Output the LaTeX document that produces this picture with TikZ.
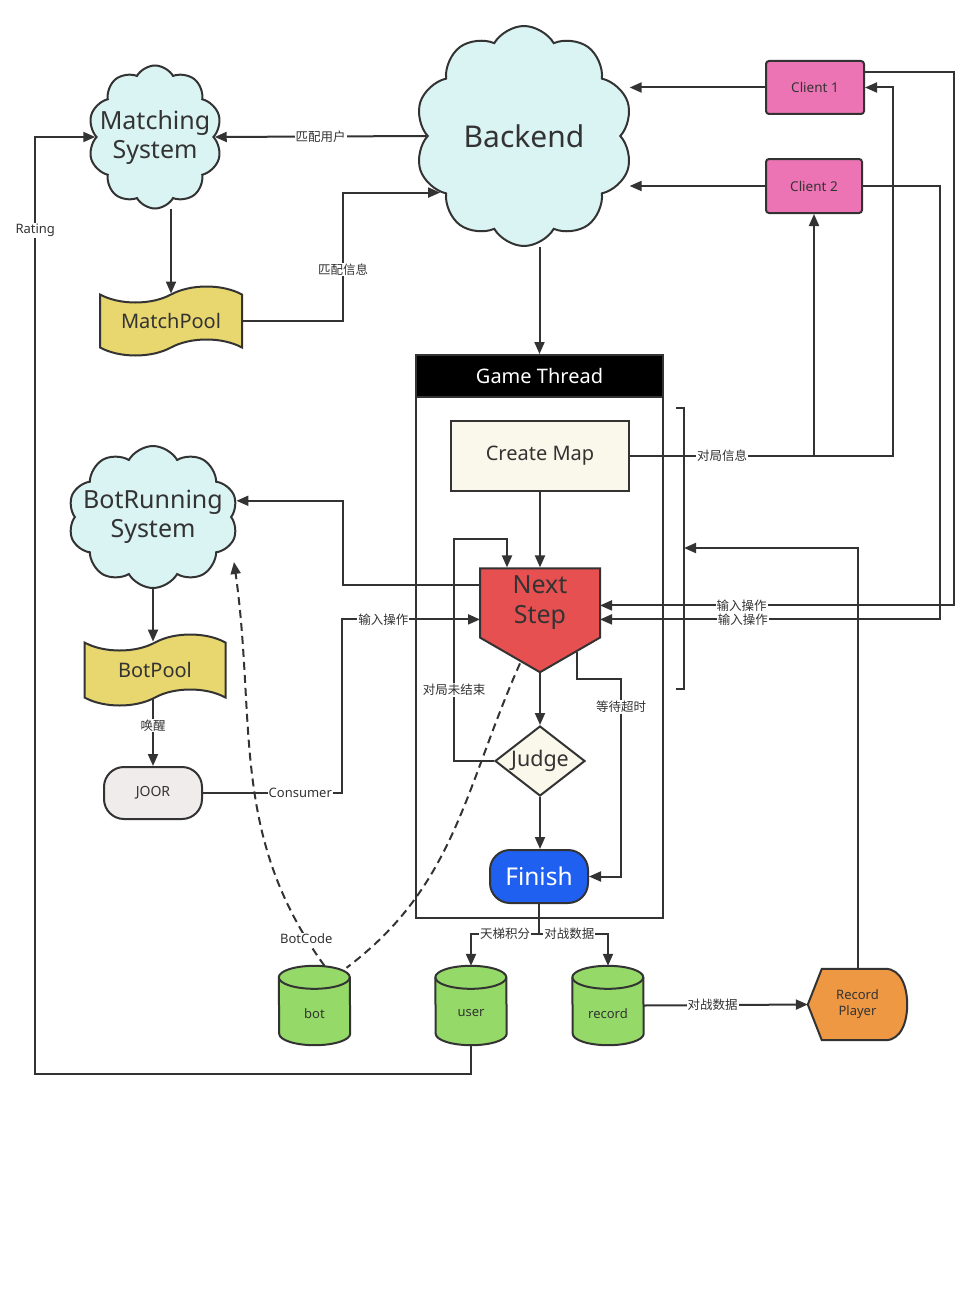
\documentclass[tikz,border=0pt]{standalone}
\usepackage{fontspec}
\setmainfont{Noto Sans}
\newfontfamily\cjk{Noto Sans CJK SC}
\usetikzlibrary{arrows.meta,calc,shapes.symbols,shapes.geometric,backgrounds}
\definecolor{lnc}{RGB}{51,51,51}
\definecolor{cloudc}{RGB}{218,243,243}
\definecolor{poolc}{RGB}{232,214,110}
\definecolor{pinkc}{RGB}{237,116,180}
\definecolor{creamc}{RGB}{250,248,234}
\definecolor{redc}{RGB}{230,80,80}
\definecolor{bluec}{RGB}{32,96,240}
\definecolor{grayc}{RGB}{239,236,235}
\definecolor{greenc}{RGB}{149,217,104}
\definecolor{orangec}{RGB}{238,152,68}

\begin{document}
\begin{tikzpicture}[x = 1pt, y = -1pt,
    every node/.style = {text = lnc},
    shp/.style = {draw = lnc, line width = 2pt},
    cloudy/.style = {shp, cloud, cloud puffs = 10, cloud puff arc = 120, fill = cloudc, inner sep = 0pt},
    bigtxt/.style = {align = center, font = \fontsize{25}{29}\selectfont},
    pool/.style = {shp, tape, fill = poolc, tape bend height = 16pt, font = \fontsize{20}{24}\selectfont},
    client/.style = {shp, fill = pinkc, rounded corners = 3pt, font = \fontsize{13.5}{16}\selectfont},
    db/.style = {minimum width = 71pt, minimum height = 79pt},
    dbtxt/.style = {yshift = -8pt, font = \fontsize{13}{16}\selectfont},
    arr/.style = {draw = lnc, line width = 2pt, -{Triangle[length = 12pt, width = 10pt]}},
    lbl/.style = {fill = white, inner sep = 1pt, font = \fontsize{13}{15}\selectfont},
    clbl/.style = {lbl, font = \cjk\fontsize{12.5}{14}\selectfont}]
    \useasboundingbox (0,0) rectangle (977,1295);

    \node[cloudy, minimum width = 134pt, minimum height = 143pt,
        label = {[bigtxt]center:Matching\\System}] (matching) at (155,137) {};
    \node[cloudy, minimum width = 218pt, minimum height = 220pt,
        label = {[font = \fontsize{30}{36}\selectfont]center:Backend}] (backend) at (524,136) {};
    \node[cloudy, minimum width = 170pt, minimum height = 142pt,
        label = {[bigtxt]center:BotRunning\\System}] (botrun) at (153,517) {};

    \node[pool, minimum width = 142pt, minimum height = 69pt] (mpool) at (171,321) {MatchPool};
    \node[pool, minimum width = 141pt, minimum height = 71pt] (bpool) at (155,670) {BotPool};

    \node[client, minimum width = 98pt, minimum height = 53pt] (client1) at (815,87.5) {Client 1};
    \node[client, minimum width = 96pt, minimum height = 54pt] (client2) at (814,186) {Client 2};

    \node[shp, minimum width = 247pt, minimum height = 563pt] (gframe) at (539.5,636.5) {};
    \node[shp, fill = black, text = white, minimum width = 247pt, minimum height = 42pt,
        font = \fontsize{20}{24}\selectfont] (gtitle) at (539.5,376) {Game Thread};
    \node[shp, fill = creamc, minimum width = 178pt, minimum height = 70pt,
        font = \fontsize{20}{24}\selectfont] (cmap) at (540,456) {Create Map};
    \node[shp, signal, signal to = south, signal pointer angle = 120, fill = redc,
        minimum width = 120pt, minimum height = 85pt, inner sep = 0pt, align = center,
        font = \fontsize{25}{30}\selectfont] (nstep) at (540,603) {Next\\Step};
    \node[shp, diamond, aspect = 1.29, fill = creamc, minimum width = 90pt, minimum height = 70pt,
        inner sep = 0pt, font = \fontsize{21.5}{26}\selectfont] (judge) at (540,761) {Judge};
    \node[shp, fill = bluec, text = white, rounded corners = 20pt, minimum width = 98pt,
        minimum height = 53pt, font = \fontsize{24.5}{29}\selectfont] (finish) at (539,876.5) {Finish};

    \node[shp, fill = grayc, rounded corners = 20pt, minimum width = 98pt, minimum height = 52pt,
        font = \fontsize{14}{17}\selectfont] (joor) at (153,793) {JOOR};

    \node[db, label = {[dbtxt]center:bot}] (bot) at (314.5,1005.5) {};
    \node[db, label = {[dbtxt]center:user}] (user) at (471,1005.5) {};
    \node[db, label = {[dbtxt]center:record}] (record) at (608,1005.5) {};

    \node[minimum width = 99pt, minimum height = 71pt, align = center,
        font = \fontsize{13}{16}\selectfont] (rplayer) at (857.5,1004.5) {Record\\Player};
    \begin{scope}[on background layer]
        \draw[shp, fill = orangec] (rplayer.west) -- ($(rplayer.north west)+(14,0)$)
            -- ($(rplayer.north east)+(-22,0)$) to[out = 0, in = 90] (rplayer.east)
            to[out = -90, in = 0] ($(rplayer.south east)+(-22,0)$)
            -- ($(rplayer.south west)+(14,0)$) -- cycle;
        \foreach \n in {bot, user, record} {
            \draw[shp, fill = greenc] ($(\n.north west)+(0,11.5)$)
                arc[start angle = 180, end angle = 0, x radius = 35.5pt, y radius = 11.5pt]
                -- ($(\n.south east)+(0,-11.5)$)
                arc[start angle = 0, end angle = -180, x radius = 35.5pt, y radius = 11.5pt] -- cycle;
            \draw[shp] ($(\n.north west)+(0,11.5)$)
                arc[start angle = 180, end angle = 360, x radius = 35.5pt, y radius = 11.5pt];
        }
    \end{scope}

    \coordinate (brtop) at (684,408);
    \coordinate (brbot) at (684,689);
    \coordinate (brin) at (684,548);
    \draw[shp] ($(brtop)+(-8,0)$) -- (brtop) -- (brbot) -- ++(-8,0);

    \draw[arr] (backend.west) -- (matching.east) node[clbl, midway] {匹配用户};
    \draw[arr] (matching.south -| mpool.north) -- (mpool.north);
    \draw[arr] (mpool.east) -- ++(100,0) |- (backend.214) node[clbl, pos = 0.2] {匹配信息};
    \draw[arr] (client1.west) -- ($(client1.west -| backend.east)+(8,0)$);
    \draw[arr] (client2.west) -- ($(client2.west -| backend.east)+(8,0)$);
    \draw[arr] (backend.south -| gtitle.north) -- (gtitle.north);

    \draw[arr] (cmap.east) -- ++(263,0) |- (client1.east);
    \draw[arr] (cmap.east) -| (client2.south) node[clbl, pos = 0.25] {对局信息};
    \draw[arr] ($(client1.east)+(0,-15)$) -- ++(89,0) |- ($(nstep.north)+(60,38)$)
        node[clbl, pos = 0.8] {输入操作};
    \draw[arr] (client2.east) -- ++(77,0) |- ($(nstep.north)+(60,52)$)
        node[clbl, pos = 0.79] {输入操作};

    \draw[arr] (cmap.south) -- (nstep.north);
    \draw[arr] (nstep.south) -- (judge.north);
    \draw[arr] (judge.south) -- (judge.south |- finish.north);
    \coordinate (loop) at (454,539);
    \draw[arr] (judge.west) -| (loop) node[clbl, pos = 0.66] {对局未结束}
        -| ($(nstep.north)+(-33,0)$);
    \draw[arr] ($(nstep.south)+(37,-21)$) -- ++(0,27) -| ($(finish.east)+(32,0)$)
        node[clbl, pos = 0.57] {等待超时} -- (finish.east);

    \draw[arr] ($(nstep.north)+(-60,18)$) -- ++(-137,0) |- (botrun.11);
    \draw[arr] (joor.east) -| ($(nstep.north)+(-198,52)$) node[lbl, pos = 0.35] {Consumer}
        -- ($(nstep.north)+(-60,52)$) node[clbl, pos = 0.3] {输入操作};
    \draw[arr] (botrun.south) -- (botrun.south |- bpool.north);
    \draw[arr] (bpool.south -| joor.north) -- (joor.north) node[clbl, pos = 0.4] {唤醒};

    \draw[arr] (finish.south) -- ++(0,30) -| (user.north) node[clbl, pos = 0.25] {天梯积分};
    \draw[arr] (finish.south) -- ++(0,30) -| (record.north) node[clbl, pos = 0.22] {对战数据};
    \draw[arr] (record.east) -- (rplayer.west) node[clbl, pos = 0.42] {对战数据};
    \draw[arr] (rplayer.north) |- (brin);
    \draw[arr] (user.south) -- ++(0,29) -| ($(matching.west)+(-60,0)$) node[lbl, pos = 0.95] {Rating}
        -- (matching.west);

    \draw[arr, dash pattern = on 8pt off 5pt] ($(bot.north)+(10,0)$) to[out = 126, in = -82]
        node[lbl, pos = 0.07] {BotCode} ($(botrun)+(81,45)$);
    \draw[shp, dash pattern = on 8pt off 5pt] ($(nstep.south)+(-20,-10)$) to[out = -114, in = 37]
        ($(bot.north)+(32,2)$);
\end{tikzpicture}
\end{document}
